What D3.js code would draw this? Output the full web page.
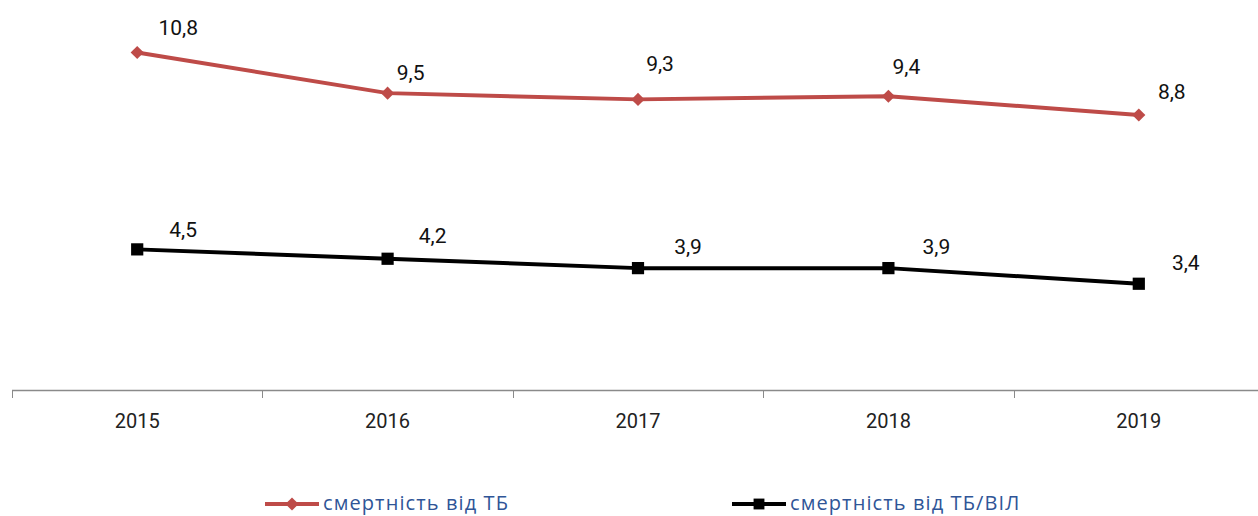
<!DOCTYPE html>
<html>
<head>
<meta charset="utf-8">
<script src="https://cdn.jsdelivr.net/npm/d3@7"></script>
<style>
  html, body { margin: 0; padding: 0; background: #fff; }
  svg { display: block; }
</style>
</head>
<body>
<svg id="chart" width="1258" height="516"></svg>
<script>
// Years on the horizontal axis
const years = ["2015", "2016", "2017", "2018", "2019"];
// Mortality from TB, per 100 000
const tbDeaths = [10.8, 9.5, 9.3, 9.4, 8.8];
// Mortality from TB/HIV co-infection, per 100 000
const tbHivDeaths = [4.5, 4.2, 3.9, 3.9, 3.4];
// Series names shown in the legend
const seriesNames = ["смертність від ТБ", "смертність від ТБ/ВІЛ"];

// Label placement relative to each point: [dx of label centre, dy of baseline]
const tbLabelOffsets = [[41, -18], [23, -13], [22, -28], [18, -22], [33, -16]];
const hivLabelOffsets = [[46, -12], [45, -16], [50, -14], [48, -14], [47, -14]];

const svg = d3.select("#chart");
const W = 1258;

const x = d3.scaleBand().domain(years).range([12, 1264]);
const y = d3.scaleLinear().domain([0, 12]).range([390, 15]);
const cx = d => x(d) + x.bandwidth() / 2;

const labelFont = "Roboto, 'DejaVu Sans', sans-serif";

// Horizontal axis line with tick marks on category boundaries
const axisG = svg.append("g");
axisG.append("line")
  .attr("x1", 12).attr("x2", W)
  .attr("y1", y(0) + 0.5).attr("y2", y(0) + 0.5)
  .attr("stroke", "#8a8a8a").attr("stroke-width", 1.5);
const boundaries = years.map(d => x(d));
axisG.selectAll("line.tick").data(boundaries).enter().append("line")
  .attr("class", "tick")
  .attr("x1", d => Math.round(d) + 0.5).attr("x2", d => Math.round(d) + 0.5)
  .attr("y1", y(0)).attr("y2", y(0) + 8)
  .attr("stroke", "#8a8a8a").attr("stroke-width", 1);

// Year labels under the axis
const xAxis = d3.axisBottom(x).tickSize(0).tickPadding(0);
const xg = svg.append("g").attr("transform", `translate(0,${y(0)})`).call(xAxis);
xg.select(".domain").remove();
xg.selectAll("text")
  .attr("dy", null)
  .attr("y", 38)
  .attr("font-family", labelFont)
  .attr("font-size", 20)
  .attr("fill", "#222");

const line = d3.line().x((d, i) => cx(years[i])).y(d => y(d));

function drawSeries(values, color, symbol, symSize, offsets) {
  const g = svg.append("g");
  g.append("path")
    .datum(values)
    .attr("d", line)
    .attr("fill", "none")
    .attr("stroke", color)
    .attr("stroke-width", 4)
    .attr("stroke-linejoin", "round");
  g.selectAll("path.marker").data(values).enter().append("path")
    .attr("class", "marker")
    .attr("d", d3.symbol().type(symbol).size(symSize))
    .attr("transform", (d, i) => `translate(${cx(years[i])},${y(d)})`)
    .attr("fill", color);
  g.selectAll("text").data(values).enter().append("text")
    .attr("x", (d, i) => cx(years[i]) + offsets[i][0])
    .attr("y", (d, i) => y(d) + offsets[i][1])
    .attr("text-anchor", "middle")
    .attr("font-family", labelFont)
    .attr("font-size", 21)
    .attr("fill", "#111")
    .text(d => d.toFixed(1).replace(".", ","));
}

drawSeries(tbDeaths, "#BE4B48", d3.symbolDiamond2, 110, tbLabelOffsets);
drawSeries(tbHivDeaths, "#000000", d3.symbolSquare2, 190, hivLabelOffsets);

// Legend
const legend = [
  { name: seriesNames[0], color: "#BE4B48", symbol: d3.symbolDiamond2, size: 110, x0: 265 },
  { name: seriesNames[1], color: "#000000", symbol: d3.symbolSquare2, size: 150, x0: 732 }
];
const lg = svg.append("g");
legend.forEach(l => {
  const ly = 504;
  lg.append("line")
    .attr("x1", l.x0).attr("x2", l.x0 + 54)
    .attr("y1", ly).attr("y2", ly)
    .attr("stroke", l.color).attr("stroke-width", 4);
  lg.append("path")
    .attr("d", d3.symbol().type(l.symbol).size(l.size))
    .attr("transform", `translate(${l.x0 + 27},${ly})`)
    .attr("fill", l.color);
  lg.append("text")
    .attr("x", l.x0 + 58).attr("y", ly + 6)
    .attr("font-family", "'Open Sans', 'Noto Sans', sans-serif")
    .attr("font-size", 20)
    .attr("letter-spacing", 1.1)
    .attr("fill", "#2F5597")
    .text(l.name);
});
</script>
</body>
</html>
